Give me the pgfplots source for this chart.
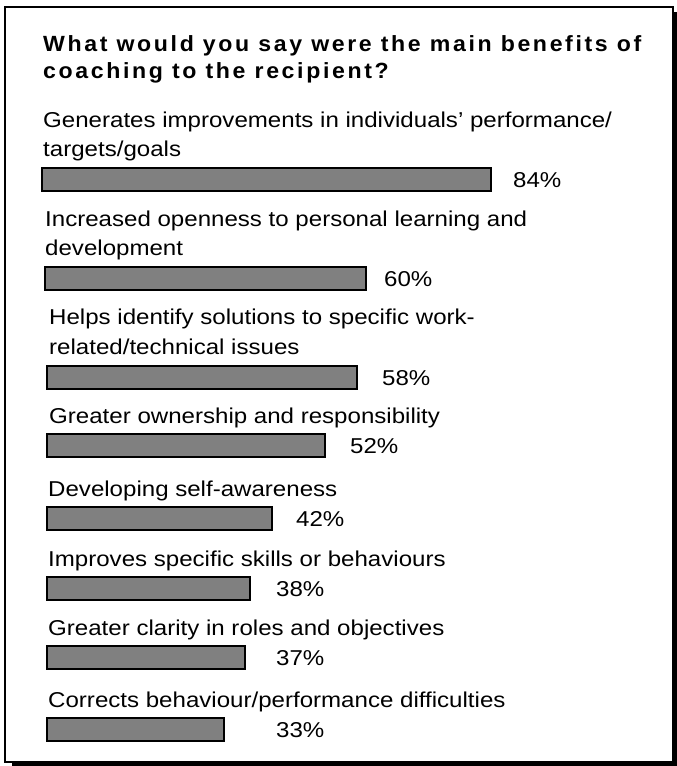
\documentclass[border=0pt]{standalone}
\usepackage{fontspec}
\setmainfont{Liberation Sans}[FakeStretch=1.12]
\newfontfamily\titlefont{Liberation Sans Bold}[FakeStretch=1.05,LetterSpace=12]
\usepackage{pgfplots}
\pgfplotsset{compat=1.18}
\definecolor{bargray}{RGB}{128,128,128}
\begin{document}
\begin{tikzpicture}[x=1pt,y=1pt]
\useasboundingbox (0,0) rectangle (677,766);
\begin{axis}[
  at={(0,0)}, anchor=south west,
  scale only axis, width=677pt, height=766pt,
  xmin=-8.785, xmax=117.757,
  ymin=0, ymax=766, y dir=reverse,
  axis lines=none, ticks=none,
  xbar, bar width=23, bar shift=0pt,
  clip=false,
]
\addplot[fill=bargray, draw=black, line width=2pt, xshift=-5pt] coordinates {(84,179)};
\addplot[fill=bargray, draw=black, line width=2pt, xshift=-2pt] coordinates {(60,278.5)};
\addplot[fill=bargray, draw=black, line width=2pt] coordinates {
(58,377) (52,445.5) (42,518.5) (38,588) (37,657.5) (33,729.5)};
\end{axis}
% frame with shadow
\draw[line width=2pt] (5,766-7) rectangle (673,766-762);
\draw[line width=3pt] (675.5,766-12) -- (675.5,766-764.5) -- (12,766-764.5);
% title
\begin{scope}[every node/.style={anchor=base west, inner sep=0pt}]
\node at (43,766-51.7) {\titlefont\fontsize{22}{27}\selectfont What would you say were the main benefits of};
\node at (43,766-79) {\titlefont\fontsize{22}{27}\selectfont coaching to the recipient?};
\fontsize{21.5}{29}\selectfont
\node at (43,766-128) {Generates improvements in individuals’ performance/};
\node at (43,766-157) {targets/goals};
\node at (45,766-227) {Increased openness to personal learning and};
\node at (45,766-256) {development};
\node at (49,766-325) {Helps identify solutions to specific work-};
\node at (49,766-355) {related/technical issues};
\node at (49,766-424) {Greater ownership and responsibility};
\node at (48,766-497) {Developing self-awareness};
\node at (48,766-567) {Improves specific skills or behaviours};
\node at (48,766-636) {Greater clarity in roles and objectives};
\node at (48,766-708) {Corrects behaviour/performance difficulties};
% values
\node at (513,766-187.5) {84\%};
\node at (384,766-287) {60\%};
\node at (382,766-385.5) {58\%};
\node at (350,766-454) {52\%};
\node at (296,766-527) {42\%};
\node at (276,766-596.5) {38\%};
\node at (276,766-666) {37\%};
\node at (276,766-738) {33\%};
\end{scope}
\end{tikzpicture}
\end{document}
